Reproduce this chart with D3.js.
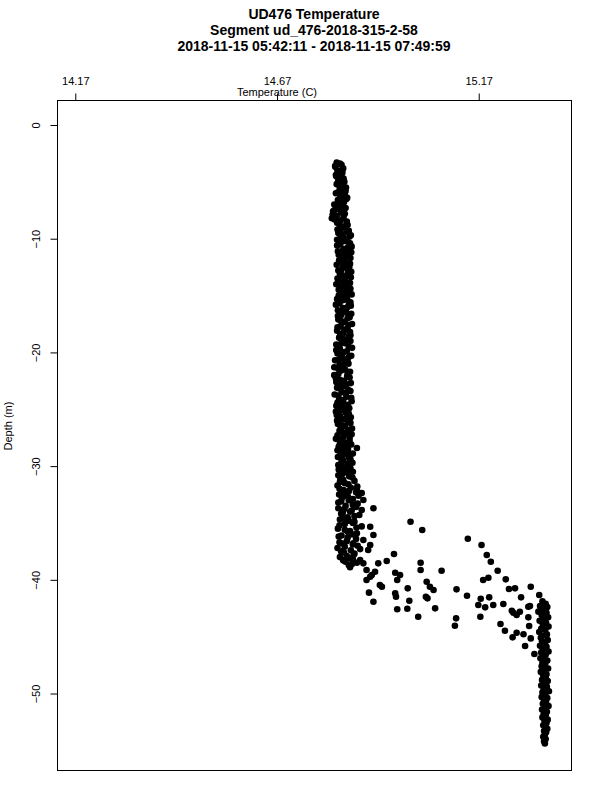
<!DOCTYPE html>
<meta charset="utf-8">
<div id="profile"></div>
<script src="https://d3js.org/d3.v7.min.js"></script>
<style type="text/css">
body { margin: 0; background: #fff; }
text { font-family: "Liberation Sans", Arial, Helvetica, sans-serif; fill: #000; }
.dot { fill: #000; }
</style>
<script>

var titleLines = ["UD476 Temperature", "Segment ud_476-2018-315-2-58", "2018-11-15 05:42:11 - 2018-11-15 07:49:59"];
var xTicks = [14.17, 14.67, 15.17];
var yTicks = [0, -10, -20, -30, -40, -50];

// upper mixed layer column, first pass
var upperDepth = [
  -3.3,-3.5,-3.7,-3.9,-4.1,-4.3,-4.5,-4.7,-4.9,-5.1,-5.3,-5.5,-5.7,-5.9,-6.1,-6.3,-6.5,-6.7,-6.9,-7.1,
  -7.3,-7.5,-7.7,-7.9,-8.1,-8.3,-8.5,-8.7,-8.9,
  -9.1,-9.3,-9.5,-9.7,-9.9,-10.1,-10.3,-10.5,-10.7,-10.9,-11.1,-11.3,-11.5,-11.7,-11.9,
  -12.1,-12.3,-12.5,-12.7,-12.9,-13.1,-13.3,-13.5,-13.7,-13.9,-14.1,-14.3,-14.5,-14.7,-14.9,
  -15.1,-15.3,-15.5,-15.7,-15.9,-16.1,-16.3,-16.5,-16.7,-16.9,-17.1,-17.3,-17.5,-17.7,-17.9,
  -18.1,-18.3,-18.5,-18.7,-18.9,-19.1,-19.3,-19.5,-19.7,-19.9,-20.1,-20.3,-20.5,-20.7,-20.9,
  -21.1,-21.3,-21.5,-21.7,-21.9,-22.1,-22.3,-22.5,-22.7,-22.9,-23.1,-23.3,-23.5,-23.7,-23.9,
  -24.1,-24.3,-24.5,-24.7,-24.9,-25.1,-25.3,-25.5,-25.7,-25.9,-26.1,-26.3,-26.5,-26.7,-26.9,
  -27.1,-27.3,-27.5,-27.7,-27.9,-28.1,-28.3,-28.5,-28.7,-28.9,-29.1,-29.3,-29.5,-29.7,-29.9,
  -30.1,-30.3,-30.5,-30.7,-30.9,-31.1,-31.3,-31.5,-31.7,-31.9,-32.1,-32.3,-32.5,-32.7,-32.9,
  -33.1,-33.3,-33.5,-33.7,-33.9,-34.1,-34.3,-34.5,-34.7,-34.9,-35.1,-35.3,-35.5,-35.7,-35.9,
  -36.1,-36.3,-36.5,-36.7,-36.9,-37.1,-37.3,-37.5,-37.7,-37.9,-38.1,-38.3,-38.5,-38.7
];
var upperTemp = [
  14.818,14.830,14.815,14.833,14.821,14.829,14.817,14.835,14.823,14.831,14.824,14.841,14.830,14.822,14.838,14.827,14.842,14.833,14.825,14.817,
  14.840,14.812,14.829,14.808,14.835,14.813,14.843,14.824,14.837,
  14.829,14.848,14.822,14.853,14.835,14.819,14.846,14.827,14.855,14.838,14.821,14.844,14.832,14.852,14.824,
  14.840,14.818,14.849,14.830,14.854,14.826,14.843,14.820,14.836,14.851,14.828,14.846,14.823,14.839,14.855,
  14.831,14.819,14.847,14.825,14.853,14.834,14.821,14.842,14.829,14.850,14.822,14.838,14.856,14.827,14.845,
  14.819,14.835,14.852,14.824,14.841,14.830,14.817,14.848,14.826,14.843,14.820,14.854,14.833,14.814,14.846,
  14.825,14.812,14.839,14.851,14.822,14.844,14.816,14.836,14.853,14.828,14.819,14.847,14.831,14.813,14.842,
  14.824,14.855,14.834,14.817,14.849,14.827,14.840,14.818,14.853,14.832,14.845,14.821,14.838,14.856,14.825,
  14.843,14.820,14.850,14.829,14.837,14.854,14.823,14.846,14.831,14.858,14.826,14.849,14.834,14.857,14.822,
  14.841,14.823,14.858,14.832,14.849,14.827,14.862,14.838,14.820,14.853,14.835,14.866,14.824,14.846,14.858,
  14.829,14.870,14.840,14.822,14.855,14.833,14.874,14.845,14.826,14.862,14.838,14.880,14.821,14.851,14.868,
  14.830,14.845,14.884,14.825,14.858,14.838,14.876,14.829,14.862,14.843,14.852,14.835,14.868,14.848
];

// upper mixed layer column, second pass
var upperDepth2 = [
  -3.4,-3.6,-3.8,-4.0,-4.2,-4.4,-4.6,-4.8,-5.0,-5.2,-5.4,-5.6,-5.8,-6.0,-6.2,-6.4,-6.6,-6.8,-7.0,-7.2,
  -7.4,-7.6,-7.8,-8.0,-8.2,-8.4,-8.6,-8.8,
  -9.0,-9.2,-9.4,-9.6,-9.8,-10.0,-10.2,-10.4,-10.6,-10.8,-11.0,-11.2,-11.4,-11.6,-11.8,-12.0,-12.2,-12.4,-12.6,-12.8,
  -13.0,-13.2,-13.4,-13.6,-13.8,-14.0,-14.2,-14.4,-14.6,-14.8,-15.0,-15.2,-15.4,-15.6,-15.8,-16.0,-16.2,-16.4,-16.6,-16.8,
  -17.0,-17.2,-17.4,-17.6,-17.8,-18.0,-18.2,-18.4,-18.6,-18.8,-19.0,-19.2,-19.4,-19.6,-19.8,-20.0,-20.2,-20.4,-20.6,-20.8,
  -21.0,-21.2,-21.4,-21.6,-21.8,-22.0,-22.2,-22.4,-22.6,-22.8,-23.0,-23.2,-23.4,-23.6,-23.8,-24.0,-24.2,-24.4,-24.6,-24.8,
  -25.0,-25.2,-25.4,-25.6,-25.8,-26.0,-26.2,-26.4,-26.6,-26.8,-27.0,-27.2,-27.4,-27.6,-27.8,-28.0,-28.2,-28.4,-28.6,-28.8,
  -29.0,-29.2,-29.4,-29.6,-29.8,
  -30.0,-30.2,-30.4,-30.6,-30.8,-31.0,-31.2,-31.4,-31.6,-31.8,-32.0,-32.2,-32.4,-32.6,-32.8,-33.0,-33.2,-33.4,-33.6,-33.8,
  -34.0,-34.2,-34.4,-34.6,-34.8,-35.0,-35.2,-35.4,-35.6,-35.8,-36.0,-36.2,-36.4,-36.6,-36.8,-37.0,-37.2,-37.4,-37.6,-37.8,
  -38.0,-38.2,-38.4,-38.6
];
var upperTemp2 = [
  14.826,14.814,14.834,14.820,14.832,14.816,14.830,14.822,14.837,14.818,14.833,14.826,14.840,14.816,14.831,14.844,14.821,14.836,14.812,14.830,
  14.822,14.809,14.838,14.818,14.806,14.828,14.819,14.845,
  14.840,14.820,14.844,14.831,14.850,14.826,14.837,14.851,14.819,14.845,14.834,14.854,14.823,14.841,14.836,14.826,14.851,14.834,14.844,14.822,
  14.846,14.831,14.853,14.822,14.840,14.817,14.833,14.852,14.826,14.845,14.823,14.843,14.834,14.852,14.816,14.845,14.838,14.826,14.854,14.821,
  14.845,14.828,14.832,14.847,14.820,14.836,14.851,14.827,14.848,14.833,14.852,14.839,14.825,14.856,14.817,14.834,14.829,14.848,14.824,14.838,
  14.847,14.833,14.821,14.829,14.845,14.812,14.850,14.826,14.817,14.843,14.835,14.826,14.852,14.840,14.822,14.854,14.834,14.820,14.845,14.830,
  14.840,14.816,14.848,14.826,14.841,14.819,14.852,14.831,14.828,14.847,14.832,14.855,14.835,14.816,14.850,14.826,14.841,14.833,14.820,14.845,
  14.836,14.821,14.852,14.830,14.845,
  14.830,14.852,14.836,14.846,14.822,14.857,14.834,14.826,14.847,14.869,14.825,14.848,14.836,14.872,14.831,14.848,14.822,14.858,14.866,14.836,
  14.851,14.829,14.862,14.836,14.848,14.858,14.825,14.867,14.838,14.846,14.856,14.823,14.866,14.843,14.832,14.870,14.820,14.853,14.836,14.860,
  14.826,14.858,14.840,14.856
];

// thermocline scatter
var scatterTemp = [
  14.909,15.001,15.030,15.143,15.177,15.190,15.200,15.217,15.237,15.181,15.194,15.260,15.245,15.299,15.275,15.320,
  15.115,15.141,15.175,15.196,15.169,15.186,15.206,15.231,15.252,15.264,15.272,15.293,15.078,15.026,15.026,14.960,
  14.942,14.963,14.975,14.968,15.041,15.049,15.058,14.994,14.925,14.930,14.963,14.965,14.998,15.039,15.043,14.898,
  14.909,14.968,14.993,15.020,15.062,15.114,15.111,15.174,15.224,15.235,15.254,15.264,15.281,15.295,15.293,15.285,
  15.299,15.308,15.297,15.256,14.851,14.876,14.892,14.901,14.921,14.913,14.896,14.901,14.909,14.901,14.880,14.884,
  14.868,14.868,14.880,14.834,14.859,14.884,14.905,14.892
];
var scatterDepth = [
  -33.71,-34.89,-35.62,-36.39,-36.94,-37.82,-38.41,-39.20,-39.96,-40.02,-39.82,-40.75,-40.81,-40.61,-41.54,-41.34,
  -40.84,-41.40,-41.66,-41.54,-42.22,-42.42,-42.22,-42.13,-42.72,-43.10,-42.81,-42.37,-39.20,-38.50,-39.14,-37.73,
  -38.35,-39.38,-39.58,-40.02,-40.17,-40.61,-40.90,-40.75,-40.46,-40.61,-41.19,-41.49,-41.84,-41.49,-41.63,-41.13,
  -41.93,-42.59,-42.54,-43.25,-42.51,-43.39,-44.04,-43.25,-43.89,-44.48,-45.06,-44.65,-44.79,-44.06,-43.30,-45.82,
  -45.15,-46.53,-42.30,-42.89,-38.90,-38.26,-39.14,-39.73,-38.55,-39.29,-37.38,-36.94,-36.06,-35.33,-33.86,-32.98,
  -32.10,-28.41,-32.37,-38.26,-36.79,-38.55,-39.58,-40.02
];

// bottom layer column
var lowerDepth = [
  -41.9,-42.1,-42.3,-42.4,-42.6,-42.8,-42.9,-43.1,-43.3,-43.4,-43.6,-43.8,-43.9,-44.1,-44.3,-44.4,-44.6,-44.8,-44.9,-45.1,
  -45.3,-45.4,-45.6,-45.8,-45.9,-46.1,-46.3,-46.4,-46.6,-46.8,-46.9,-47.1,-47.3,-47.4,-47.6,-47.8,-47.9,-48.1,-48.3,-48.4,
  -48.6,-48.8,-48.9,-49.1,-49.3,-49.4,-49.6,-49.8,-49.9,-50.1,-50.3,-50.4,-50.6,-50.8,-50.9,-51.1,-51.3,-51.4,-51.6,-51.8,
  -51.9,-52.1,-52.3,-52.4,-52.6,-52.8,-52.9,-53.1,-53.3,-53.4,-53.6,-53.8,-54.0,-54.2,-54.4
];
var lowerTemp = [
  15.328,15.336,15.322,15.340,15.331,15.318,15.338,15.326,15.342,15.333,15.321,15.337,15.329,15.343,15.325,15.335,15.320,15.339,15.330,15.324,
  15.341,15.327,15.334,15.322,15.338,15.329,15.343,15.325,15.336,15.331,15.323,15.340,15.328,15.335,15.326,15.342,15.332,15.324,15.338,15.330,
  15.336,15.327,15.341,15.333,15.325,15.339,15.331,15.344,15.328,15.335,15.326,15.340,15.332,15.337,15.329,15.343,15.334,15.327,15.339,15.331,
  15.336,15.328,15.341,15.333,15.338,15.330,15.335,15.340,15.332,15.337,15.334,15.330,15.336,15.332,15.334
];

function toPoints(temps, depths) {
  var arr = [];
  for (var i = 0; i < temps.length; i++) {
    arr.push({temp: temps[i], depth: depths[i]});
  }
  return arr;
}
var points = toPoints(upperTemp, upperDepth)
  .concat(toPoints(upperTemp2, upperDepth2))
  .concat(toPoints(scatterTemp, scatterDepth))
  .concat(toPoints(lowerTemp, lowerDepth));

var box = {left: 57.5, top: 100.5, right: 571.5, bottom: 770.5};

var svg = d3.select("#profile").append("svg")
    .attr("width", 600)
    .attr("height", 800);

var xScale = d3.scaleLinear()
    .domain([14.1259, 15.400])
    .range([box.left, box.right]);
var yScale = d3.scaleLinear()
    .domain([2.155, -56.77])
    .range([box.top, box.bottom]);

// title
svg.selectAll(".title")
    .data(titleLines)
  .enter().append("text")
    .attr("class", "title")
    .attr("x", 314)
    .attr("y", function(d, i) { return 18.5 + i * 16; })
    .attr("text-anchor", "middle")
    .style("font-size", "14px")
    .style("font-weight", "bold")
    .text(function(d) { return d; });

// top axis
var xAxis = svg.append("g")
    .attr("transform", "translate(0," + box.top + ")")
    .call(d3.axisTop(xScale).tickValues(xTicks).tickSize(7).tickSizeOuter(0).tickPadding(9)
      .tickFormat(d3.format(".2f")));
xAxis.select(".domain").remove();
xAxis.selectAll("line").attr("stroke", "#000");
xAxis.selectAll("text")
    .style("font-size", "11px")
    .attr("font-family", null);

svg.append("text")
    .attr("x", 277)
    .attr("y", 95.5)
    .attr("text-anchor", "middle")
    .style("font-size", "11px")
    .text("Temperature (C)");

// left axis
var yAxis = svg.append("g")
    .attr("transform", "translate(" + box.left + ",0)")
    .call(d3.axisLeft(yScale).tickValues(yTicks).tickSize(7).tickSizeOuter(0));
yAxis.select(".domain").remove();
yAxis.selectAll("line").attr("stroke", "#000");
yAxis.selectAll("text")
    .attr("x", 0)
    .attr("dy", null)
    .attr("text-anchor", "middle")
    .attr("transform", "translate(-17.5,0) rotate(-90)")
    .style("font-size", "11px")
    .attr("font-family", null);

svg.append("text")
    .attr("transform", "translate(11.5,426) rotate(-90)")
    .attr("text-anchor", "middle")
    .style("font-size", "11px")
    .text("Depth (m)");

svg.append("rect")
    .attr("x", box.left)
    .attr("y", box.top)
    .attr("width", box.right - box.left)
    .attr("height", box.bottom - box.top)
    .attr("fill", "none")
    .attr("stroke", "#000");

svg.selectAll(".dot")
    .data(points)
  .enter().append("circle")
    .attr("class", "dot")
    .attr("cx", function(d) { return xScale(d.temp); })
    .attr("cy", function(d) { return yScale(d.depth); })
    .attr("r", 3.3);
</script>
